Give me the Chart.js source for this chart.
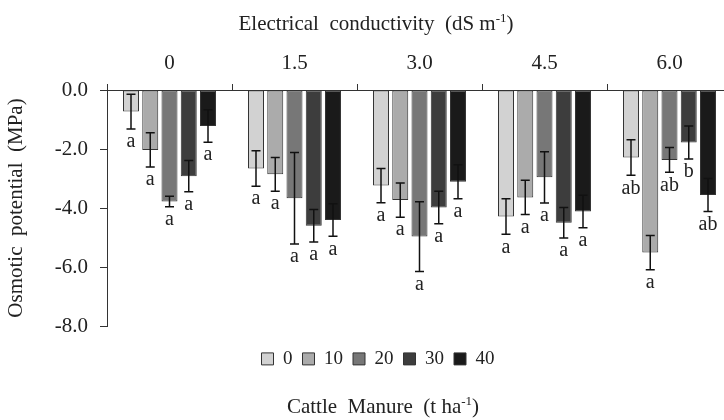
<!DOCTYPE html>
<html>
<head>
<meta charset="utf-8">
<script src="https://cdn.jsdelivr.net/npm/chart.js@4.4.1/dist/chart.umd.min.js"></script>
<style>
  html, body { margin: 0; padding: 0; background: #fff; overflow: hidden; }
  #wrap { width: 724px; height: 420px; overflow: hidden; }
</style>
</head>
<body>
<div id="wrap"><canvas id="osmoChart" width="756" height="420"></canvas></div>
<script>
// EC levels (dS m-1) and manure doses (t ha-1)
const ecLevels = ["0", "1.5", "3.0", "4.5", "6.0"];
const manureDoses = ["0", "10", "20", "30", "40"];
const yTicks = [0, -2, -4, -6, -8];

// osmotic potential (MPa), one array per manure dose, across EC levels
const dose0  = [-0.73, -2.66, -3.24, -4.29, -2.29];
const dose10 = [-2.03, -2.86, -3.73, -3.64, -5.51];
const dose20 = [-3.78, -3.67, -4.97, -2.96, -2.37];
const dose30 = [-2.92, -4.60, -3.98, -4.50, -1.78];
const dose40 = [-1.22, -4.41, -3.11, -4.12, -3.56];

// standard errors
const err0  = [0.59, 0.60, 0.58, 0.60, 0.60];
const err10 = [0.58, 0.57, 0.58, 0.58, 0.58];
const err20 = [0.18, 1.55, 1.18, 0.87, 0.42];
const err30 = [0.53, 0.55, 0.55, 0.52, 0.56];
const err40 = [0.55, 0.55, 0.58, 0.55, 0.56];

// Tukey letters
const let0  = ["a", "a", "a", "a", "ab"];
const let10 = ["a", "a", "a", "a", "a"];
const let20 = ["a", "a", "a", "a", "ab"];
const let30 = ["a", "a", "a", "a", "b"];
const let40 = ["a", "a", "a", "a", "ab"];

const seriesValues = [dose0, dose10, dose20, dose30, dose40];
const seriesErrors = [err0, err10, err20, err30, err40];
const seriesLetters = [let0, let10, let20, let30, let40];
const fills = ["#d2d2d2", "#ababab", "#777777", "#3d3d3d", "#1a1a1a"];

const SERIF = "'Liberation Serif', 'DejaVu Serif', serif";

// draws text with a superscript piece, centred at cx
function drawSupText(ctx, parts, cx, y, size) {
    let total = 0;
    parts.forEach(p => {
        ctx.font = (p.sup ? size * 0.62 : size) + "px " + SERIF;
        total += ctx.measureText(p.t).width;
    });
    let x = cx - total / 2;
    ctx.textAlign = "left";
    ctx.textBaseline = "alphabetic";
    parts.forEach(p => {
        ctx.font = (p.sup ? size * 0.62 : size) + "px " + SERIF;
        ctx.fillText(p.t, x, p.sup ? y - size * 0.38 : y);
        x += ctx.measureText(p.t).width;
    });
}

const extrasPlugin = {
    id: "extras",
    afterDatasetsDraw(chart) {
        const ctx = chart.ctx;
        const yScale = chart.scales.y;
        ctx.save();
        chart.data.datasets.forEach((ds, i) => {
            const meta = chart.getDatasetMeta(i);
            meta.data.forEach((bar, j) => {
                const v = ds.data[j];
                const e = seriesErrors[i][j];
                const yTop = yScale.getPixelForValue(v + e);
                const yBot = yScale.getPixelForValue(v - e);
                const x = bar.x;
                ctx.strokeStyle = "#111";
                ctx.lineWidth = 1.5;
                ctx.beginPath();
                ctx.moveTo(x, yTop); ctx.lineTo(x, yBot);
                ctx.moveTo(x - 4.5, yTop); ctx.lineTo(x + 4.5, yTop);
                ctx.moveTo(x - 4.5, yBot); ctx.lineTo(x + 4.5, yBot);
                ctx.stroke();
                ctx.fillStyle = "#222";
                ctx.font = "20px " + SERIF;
                ctx.textAlign = "center";
                ctx.textBaseline = "top";
                ctx.fillText(seriesLetters[i][j], x, yBot + 3);
            });
        });
        ctx.restore();
    },
    afterDraw(chart) {
        const ctx = chart.ctx;
        ctx.save();
        ctx.fillStyle = "#222";
        drawSupText(ctx, [{t: "Electrical  conductivity  (dS m"}, {t: "-1", sup: true}, {t: ")"}], 376, 30, 21);
        drawSupText(ctx, [{t: "Cattle  Manure  (t ha"}, {t: "-1", sup: true}, {t: ")"}], 383, 413, 21);
        ctx.restore();
    }
};

const datasets = manureDoses.map((d, i) => ({
    label: d,
    data: seriesValues[i],
    backgroundColor: fills[i],
    borderColor: "#333",
    borderWidth: 1,
    borderSkipped: false,
    categoryPercentage: 0.77,
    barPercentage: 0.83
}));

new Chart(document.getElementById("osmoChart").getContext("2d"), {
    type: "bar",
    data: { labels: ecLevels, datasets: datasets },
    plugins: [extrasPlugin],
    options: {
        responsive: false,
        animation: false,
        layout: { padding: { top: 40, right: 24, bottom: 41.6, left: 24 } },
        plugins: {
            legend: {
                position: "bottom",
                title: { display: true, text: "", font: { size: 2 }, padding: 5.5 },
                labels: {
                    boxWidth: 12,
                    boxHeight: 12,
                    padding: 10,
                    color: "#222",
                    font: { family: SERIF, size: 19 }
                }
            },
            tooltip: { enabled: false }
        },
        scales: {
            x: {
                position: "top",
                grid: { offset: true, drawOnChartArea: false, drawTicks: true, tickLength: 6, color: "#333" },
                border: { color: "#333", width: 1 },
                ticks: { color: "#222", padding: 8, font: { family: SERIF, size: 21 } },
                afterFit(scale) { scale.height = 50; }
            },
            y: {
                min: -8,
                max: 0,
                afterBuildTicks(scale) { scale.ticks = yTicks.map(v => ({ value: v })); },
                grid: { drawOnChartArea: false, drawTicks: true, tickLength: 7, color: "#333" },
                border: { color: "#333", width: 1 },
                ticks: {
                    color: "#222",
                    padding: 12,
                    font: { family: SERIF, size: 21 },
                    callback: v => v.toFixed(1)
                },
                title: {
                    display: true,
                    text: "Osmotic  potential  (MPa)",
                    color: "#222",
                    font: { family: SERIF, size: 21 },
                    padding: { top: -20, bottom: 0 }
                },
                afterFit(scale) { scale.width = 83; }
            }
        }
    }
});
</script>
</body>
</html>
